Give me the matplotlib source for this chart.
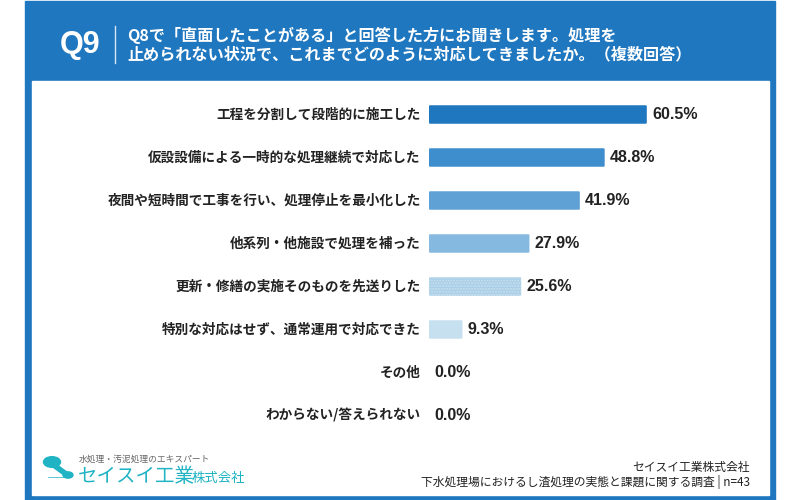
import matplotlib
matplotlib.use('Agg')
import matplotlib.pyplot as plt
from matplotlib.patches import Rectangle, Circle, FancyBboxPatch

plt.rcParams['font.family'] = ['Noto Sans CJK JP', 'DejaVu Sans']

# データ
labels = ['工程を分割して段階的に施工した',
          '仮設設備による一時的な処理継続で対応した',
          '夜間や短時間で工事を行い、処理停止を最小化した',
          '他系列・他施設で処理を補った',
          '更新・修繕の実施そのものを先送りした',
          '特別な対応はせず、通常運用で対応できた',
          'その他',
          'わからない/答えられない']
values = [60.5, 48.8, 41.9, 27.9, 25.6, 9.3, 0.0, 0.0]
colors = ['#1f77c0', '#3e8dcc', '#5fa1d4', '#86b9e0', '#a9cee7', '#c6e0f0', '#c6e0f0', '#c6e0f0']

W, H = 800, 500
BLUE = '#1f77bf'

fig = plt.figure(figsize=(8, 5), dpi=100)

def fx(px):
    return px / W

def fy(py):
    return 1 - py / H

# 背景パネル
fig.patches.append(Rectangle((fx(25), 0), fx(775) - fx(25), fy(1), transform=fig.transFigure,
                             color=BLUE, zorder=0))
fig.patches.append(Rectangle((fx(32), fy(495)), fx(769) - fx(32), fy(81) - fy(495),
                             transform=fig.transFigure, color='white', zorder=0))

# ヘッダー
fig.text(fx(80), fy(45), 'Q9', color='white', fontsize=22, fontweight='bold',
         ha='center', va='center', family=['Liberation Sans', 'DejaVu Sans'])
fig.add_artist(plt.Line2D([fx(115), fx(115)], [fy(26), fy(63)], color='#d8e6f3', lw=1))
fig.text(fx(127), fy(35), 'Q8で「直面したことがある」と回答した方にお聞きします。処理を',
         color='white', fontsize=11.6, fontweight='bold', va='center')
fig.text(fx(127), fy(54), '止められない状況で、これまでどのように対応してきましたか。（複数回答）',
         color='white', fontsize=11.6, fontweight='bold', va='center')

# 棒グラフ
x0 = 429
ppu = 3.6
ax = fig.add_axes([fx(x0), fy(437), ppu * 80 / W, (437 - 93) / H])
ax.set_zorder(3)
ax.set_xlim(0, 80)
ax.set_ylim(len(labels) - 0.5, -0.5)
ax.axis('off')
for i, (v, c) in enumerate(zip(values, colors)):
    if v > 0:
        bar = FancyBboxPatch((0, i - 0.215), v, 0.43,
                             boxstyle='round,pad=0,rounding_size=0.4',
                             fc=c, ec='none', mutation_aspect=0.05)
        if i == 4:
            bar.set_hatch('......')
            bar.set_edgecolor('#c9e0f0')
            bar.set_linewidth(0)
        ax.add_patch(bar)
    ax.text(v + 1.5, i, f'{v:.1f}%', va='center', ha='left', fontsize=11.5,
            fontweight='bold', color='#222222', family=['Liberation Sans', 'DejaVu Sans'])
    ax.text(-2.3, i, labels[i], va='center', ha='right', fontsize=9.8,
            fontweight='bold', color='#222222')

# フッター(ロゴ)
TEAL = '#1fb3c4'
fig.patches.append(Circle((fx(52), fy(462)), 8.5 / W, transform=fig.transFigure, color=TEAL))
fig.add_artist(plt.Line2D([fx(55), fx(66)], [fy(466), fy(474)], color=TEAL, lw=4))
fig.patches.append(Circle((fx(68), fy(475)), 5 / W, transform=fig.transFigure, color=TEAL))
fig.add_artist(plt.Line2D([fx(48), fx(64)], [fy(477), fy(477)], color=TEAL, lw=0.5))
fig.text(fx(79), fy(459), '水処理・汚泥処理のエキスパート', fontsize=6.3, color='#666666', va='center')
fig.text(fx(78), fy(476), 'セイスイ工業', fontsize=14, color=TEAL, va='center')
fig.text(fx(192), fy(478), '株式会社', fontsize=9.6, color=TEAL, va='center')

fig.text(fx(750), fy(467), 'セイスイ工業株式会社', fontsize=8.5, color='#222222',
         ha='right', va='center')
fig.text(fx(750), fy(482), '下水処理場におけるし渣処理の実態と課題に関する調査 | n=43', fontsize=8.5,
         color='#222222', ha='right', va='center')

fig.savefig('out.png', dpi=100)
